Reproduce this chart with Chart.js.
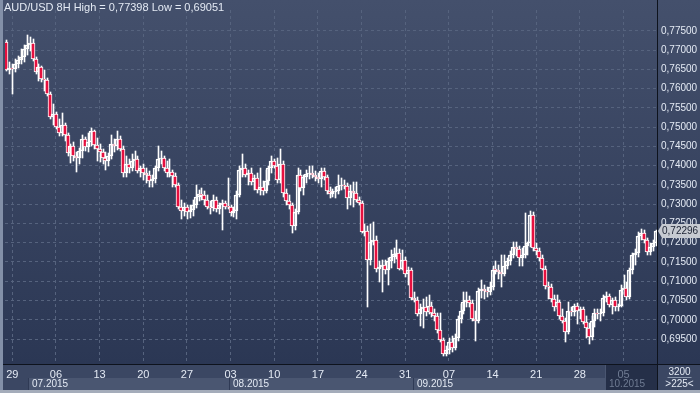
<!DOCTYPE html>
<html>
<head>
<meta charset="utf-8">
<script src="https://cdn.jsdelivr.net/npm/chart.js@4/dist/chart.umd.min.js"></script>
<style>
  html, body { margin: 0; padding: 0; background: #2c3955; overflow: hidden; }
</style>
</head>
<body>
<canvas id="chart" width="700" height="393"></canvas>
<script>
// AUD/USD 8H candles (one value per bar)
const opens = [
  0.7721,0.7648,0.7653,0.7650,0.7665,0.7675,0.7681,0.7703,0.7713,0.7718,
  0.7678,0.7643,0.7655,0.7625,0.7623,0.7587,0.7527,0.7534,0.7501,0.7484,
  0.7506,0.7481,0.7433,0.7451,0.7426,0.7421,0.7438,0.7469,0.7448,0.7461,
  0.7489,0.7453,0.7443,0.7436,0.7421,0.7413,0.7426,0.7456,0.7451,0.7469,
  0.7443,0.7380,0.7405,0.7395,0.7413,0.7418,0.7385,0.7393,0.7380,0.7375,
  0.7360,0.7365,0.7395,0.7418,0.7421,0.7393,0.7380,0.7383,0.7373,0.7350,
  0.7294,0.7282,0.7292,0.7279,0.7284,0.7299,0.7320,0.7327,0.7325,0.7312,
  0.7294,0.7289,0.7312,0.7287,0.7297,0.7302,0.7294,0.7292,0.7277,0.7282,
  0.7325,0.7388,0.7395,0.7375,0.7380,0.7357,0.7368,0.7337,0.7345,0.7335,
  0.7360,0.7395,0.7413,0.7400,0.7362,0.7405,0.7330,0.7309,0.7299,0.7244,
  0.7279,0.7375,0.7342,0.7370,0.7378,0.7380,0.7375,0.7370,0.7365,0.7385,
  0.7370,0.7335,0.7327,0.7332,0.7335,0.7347,0.7350,0.7347,0.7317,0.7335,
  0.7330,0.7312,0.7304,0.7229,0.7231,0.7155,0.7203,0.7206,0.7133,0.7138,
  0.7143,0.7128,0.7153,0.7163,0.7170,0.7173,0.7133,0.7155,0.7118,0.7128,
  0.7057,0.7052,0.7014,0.7027,0.7032,0.7019,0.7037,0.7017,0.7009,0.6974,
  0.6948,0.6911,0.6921,0.6943,0.6926,0.6953,0.7001,0.7022,0.7047,0.7052,
  0.7044,0.7001,0.6996,0.7075,0.7080,0.7075,0.7072,0.7085,0.7130,0.7128,
  0.7123,0.7120,0.7140,0.7153,0.7168,0.7188,0.7183,0.7160,0.7168,0.7191,
  0.7198,0.7272,0.7186,0.7178,0.7160,0.7133,0.7087,0.7085,0.7054,0.7032,
  0.7047,0.7009,0.6996,0.6969,0.7024,0.7019,0.7037,0.7024,0.7027,0.6994,
  0.6979,0.6956,0.6996,0.7017,0.7014,0.7017,0.7057,0.7062,0.7039,0.7052,
  0.7032,0.7037,0.7077,0.7082,0.7059,0.7128,0.7168,0.7173,0.7218,0.7226,
  0.7206,0.7176,0.7188,0.7198
];
const highs = [
  0.7726,0.7670,0.7665,0.7678,0.7686,0.7703,0.7713,0.77398,0.7734,0.7729,
  0.7683,0.7663,0.7660,0.7648,0.7628,0.7592,0.7560,0.7539,0.7522,0.7537,
  0.7512,0.7486,0.7456,0.7461,0.7436,0.7446,0.7481,0.7474,0.7486,0.7499,
  0.7494,0.7471,0.7456,0.7443,0.7436,0.7433,0.7481,0.7469,0.7489,0.7476,
  0.7451,0.7426,0.7418,0.7431,0.7438,0.7426,0.7400,0.7405,0.7393,0.7385,
  0.7375,0.7400,0.7451,0.7438,0.7426,0.7413,0.7418,0.7388,0.7380,0.7355,
  0.7312,0.7304,0.7299,0.7299,0.7312,0.7350,0.7337,0.7342,0.7335,0.7325,
  0.7309,0.7325,0.7320,0.7304,0.7312,0.7309,0.7368,0.7299,0.7292,0.7335,
  0.7400,0.7431,0.7405,0.7388,0.7393,0.7375,0.7380,0.7395,0.7360,0.7388,
  0.7400,0.7426,0.7418,0.7421,0.7443,0.7413,0.7340,0.7325,0.7304,0.7287,
  0.7393,0.7388,0.7375,0.7388,0.7400,0.7400,0.7385,0.7380,0.7393,0.7393,
  0.7375,0.7345,0.7340,0.7345,0.7375,0.7368,0.7362,0.7355,0.7350,0.7357,
  0.7357,0.7320,0.7309,0.7249,0.7244,0.7249,0.7254,0.7218,0.7153,0.7155,
  0.7155,0.7160,0.7181,0.7186,0.7206,0.7183,0.7181,0.7163,0.7138,0.7135,
  0.7072,0.7059,0.7042,0.7054,0.7059,0.7065,0.7047,0.7027,0.7017,0.7017,
  0.6953,0.6933,0.6953,0.6958,0.6963,0.7009,0.7042,0.7072,0.7072,0.7062,
  0.7052,0.7022,0.7082,0.7102,0.7090,0.7085,0.7097,0.7140,0.7153,0.7143,
  0.7168,0.7168,0.7160,0.7178,0.7203,0.7203,0.7191,0.7186,0.7277,0.7203,
  0.7282,0.7279,0.7198,0.7186,0.7168,0.7140,0.7097,0.7092,0.7065,0.7065,
  0.7052,0.7027,0.7004,0.7047,0.7034,0.7042,0.7044,0.7034,0.7034,0.7009,
  0.6991,0.7009,0.7027,0.7029,0.7027,0.7065,0.7072,0.7067,0.7057,0.7059,
  0.7042,0.7090,0.7115,0.7097,0.7135,0.7173,0.7183,0.7229,0.7236,0.7234,
  0.7213,0.7198,0.7208,0.7234
];
const lows = [
  0.7645,0.7638,0.7585,0.7643,0.7653,0.7663,0.7668,0.7688,0.7698,0.7673,
  0.7638,0.7620,0.7618,0.7595,0.7582,0.7522,0.7506,0.7496,0.7476,0.7476,
  0.7464,0.7426,0.7408,0.7413,0.7383,0.7405,0.7421,0.7438,0.7436,0.7451,
  0.7443,0.7413,0.7410,0.7405,0.7388,0.7400,0.7418,0.7436,0.7441,0.7438,
  0.7370,0.7370,0.7380,0.7385,0.7400,0.7380,0.7370,0.7362,0.7355,0.7345,
  0.7345,0.7355,0.7385,0.7405,0.7385,0.7370,0.7370,0.7345,0.7345,0.7287,
  0.7261,0.7269,0.7261,0.7264,0.7269,0.7289,0.7309,0.7312,0.7299,0.7287,
  0.7274,0.7282,0.7279,0.7274,0.7234,0.7287,0.7287,0.7269,0.7266,0.7261,
  0.7320,0.7370,0.7370,0.7350,0.7350,0.7337,0.7330,0.7325,0.7325,0.7330,
  0.7350,0.7380,0.7393,0.7355,0.7355,0.7320,0.7299,0.7287,0.7224,0.7234,
  0.7274,0.7335,0.7325,0.7355,0.7365,0.7368,0.7360,0.7355,0.7345,0.7362,
  0.7327,0.7317,0.7320,0.7317,0.7327,0.7337,0.7340,0.7287,0.7299,0.7292,
  0.7307,0.7299,0.7224,0.7218,0.7034,0.7143,0.7193,0.7123,0.7097,0.7072,
  0.7118,0.7090,0.7135,0.7148,0.7158,0.7128,0.7128,0.7110,0.7090,0.7052,
  0.7047,0.7009,0.6984,0.6979,0.7011,0.7014,0.7006,0.6996,0.6966,0.6941,
  0.69051,0.6907,0.6911,0.6916,0.6921,0.6946,0.6991,0.7014,0.7032,0.7034,
  0.6996,0.6946,0.6991,0.7057,0.7054,0.7059,0.7065,0.7077,0.7118,0.7105,
  0.7085,0.7113,0.7133,0.7143,0.7160,0.7165,0.7140,0.7140,0.7160,0.7168,
  0.7188,0.7178,0.7168,0.7153,0.7128,0.7080,0.7054,0.7047,0.7024,0.7027,
  0.7001,0.6991,0.6941,0.6963,0.7011,0.7011,0.6989,0.7001,0.6989,0.6953,
  0.6938,0.6948,0.6981,0.7001,0.6996,0.7011,0.7047,0.7034,0.7014,0.7022,
  0.7022,0.7032,0.7067,0.7052,0.7054,0.7118,0.7143,0.7163,0.7208,0.7198,
  0.7168,0.7168,0.7178,0.7191
];
const closes = [
  0.7648,0.7653,0.7650,0.7665,0.7675,0.7681,0.7703,0.7713,0.7718,0.7678,
  0.7643,0.7655,0.7625,0.7623,0.7587,0.7527,0.7534,0.7501,0.7484,0.7506,
  0.7481,0.7433,0.7451,0.7426,0.7421,0.7438,0.7469,0.7448,0.7461,0.7489,
  0.7453,0.7443,0.7436,0.7421,0.7413,0.7426,0.7456,0.7451,0.7469,0.7443,
  0.7380,0.7405,0.7395,0.7413,0.7418,0.7385,0.7393,0.7380,0.7375,0.7360,
  0.7365,0.7395,0.7418,0.7421,0.7393,0.7380,0.7383,0.7373,0.7350,0.7294,
  0.7282,0.7292,0.7279,0.7284,0.7299,0.7320,0.7327,0.7325,0.7312,0.7294,
  0.7289,0.7312,0.7287,0.7297,0.7302,0.7294,0.7292,0.7277,0.7282,0.7325,
  0.7388,0.7395,0.7375,0.7380,0.7357,0.7368,0.7337,0.7345,0.7335,0.7360,
  0.7395,0.7413,0.7400,0.7362,0.7405,0.7330,0.7309,0.7299,0.7244,0.7279,
  0.7375,0.7342,0.7370,0.7378,0.7380,0.7375,0.7370,0.7365,0.7385,0.7370,
  0.7335,0.7327,0.7332,0.7335,0.7347,0.7350,0.7347,0.7317,0.7335,0.7330,
  0.7312,0.7304,0.7229,0.7231,0.7155,0.7203,0.7206,0.7133,0.7138,0.7143,
  0.7128,0.7153,0.7163,0.7170,0.7173,0.7133,0.7155,0.7118,0.7128,0.7057,
  0.7052,0.7014,0.7027,0.7032,0.7019,0.7037,0.7017,0.7009,0.6974,0.6948,
  0.6911,0.6921,0.6943,0.6926,0.6953,0.7001,0.7022,0.7047,0.7052,0.7044,
  0.7001,0.6996,0.7075,0.7080,0.7075,0.7072,0.7085,0.7130,0.7128,0.7123,
  0.7120,0.7140,0.7153,0.7168,0.7188,0.7183,0.7160,0.7168,0.7191,0.7198,
  0.7272,0.7186,0.7178,0.7160,0.7133,0.7087,0.7085,0.7054,0.7032,0.7047,
  0.7009,0.6996,0.6969,0.7024,0.7019,0.7037,0.7024,0.7027,0.6994,0.6979,
  0.6956,0.6996,0.7017,0.7014,0.7017,0.7057,0.7062,0.7039,0.7052,0.7032,
  0.7037,0.7077,0.7082,0.7059,0.7128,0.7168,0.7173,0.7218,0.7226,0.7206,
  0.7176,0.7188,0.7198,0.72296
];

// axis labels
const weekTicks = ['29','06','13','20','27','03','10','17','24','31','07','14','21','28','05'];
const monthLabels = ['07.2015','08.2015','09.2015','10.2015'];
const monthStartBar = [8, 77, 140, 206];
const priceTicks = [0.695,0.700,0.705,0.710,0.715,0.720,0.725,0.730,0.735,0.740,0.745,0.750,0.755,0.760,0.765,0.770,0.775];
const firstMondayBar = 2;
const barsPerWeek = 15;

const FONT = "'Liberation Sans', Arial, sans-serif";
const gridColor = '#56637e';
const textColor = '#e4eaf4';
const dimText = '#6f7b92';

const fmt = (v) => v.toFixed(5).replace('.', ',');
const isWeekBar = (i) => i >= firstMondayBar && (i - firstMondayBar) % barsPerWeek === 0;

Chart.defaults.font.family = FONT;
Chart.defaults.font.size = 10;

// snap candles to whole pixels so they stay crisp
const pixelSnap = {
  id: 'pixelSnap',
  beforeDatasetsDraw(chart) {
    chart.data.datasets.forEach((ds, di) => {
      const meta = chart.getDatasetMeta(di);
      const isWick = ds.label === 'wick';
      meta.data.forEach((el) => {
        el.x = Math.round(el.x) + (isWick ? 0.5 : 0);
        el.y = Math.round(el.y);
        el.base = Math.round(el.base);
      });
    });
  }
};

const chartDecor = {
  id: 'chartDecor',
  beforeDraw(chart) {
    const { ctx, chartArea: a, scales: { x } } = chart;
    const W = chart.width, H = chart.height;
    ctx.save();
    const g = ctx.createLinearGradient(0, 0, 0, a.bottom);
    g.addColorStop(0, '#44506c');
    g.addColorStop(1, '#2b3754');
    ctx.fillStyle = g;
    ctx.fillRect(0, 0, W, a.bottom);
    ctx.fillStyle = '#3b4763';
    ctx.fillRect(0, a.bottom, W, H - a.bottom);
    const slot = x.getPixelForValue(1) - x.getPixelForValue(0);
    for (let k = 0; k < monthStartBar.length - 1; k++) {
      const x0 = Math.round(x.getPixelForValue(monthStartBar[k]) - slot / 2);
      const x1 = Math.round(x.getPixelForValue(monthStartBar[k + 1]) - slot / 2);
      ctx.fillStyle = '#4a5671';
      ctx.fillRect(x0, a.bottom + 14, x1 - x0, 12);
      ctx.fillStyle = '#2f3a55';
      ctx.fillRect(x0, a.bottom + 14, 1, 12);
    }
    // current month panel (darker)
    const xo = Math.round(x.getPixelForValue(monthStartBar[monthStartBar.length - 1]) - slot / 2);
    ctx.fillStyle = '#252f48';
    ctx.fillRect(xo, a.bottom, a.right - xo, 26);
    ctx.fillStyle = '#4a5671';
    ctx.fillRect(xo, a.bottom, 1, 26);
    ctx.restore();
  },
  afterDraw(chart) {
    const { ctx, chartArea: a, scales: { x, y } } = chart;
    const W = chart.width, H = chart.height;
    ctx.save();
    ctx.fillStyle = '#0e131d';
    ctx.fillRect(0, a.bottom, W, 1);
    ctx.fillRect(a.right, 0, 1, H);
    ctx.fillStyle = '#8390a8';
    ctx.fillRect(0, 0, 3, H);
    ctx.fillStyle = '#a4acba';
    ctx.fillRect(0, H - 3, W, 3);

    ctx.textBaseline = 'middle';
    ctx.textAlign = 'left';
    // title
    ctx.font = '11px ' + FONT;
    ctx.fillStyle = textColor;
    const hi = Math.max(...highs), lo = Math.min(...lows);
    ctx.fillText('AUD/USD 8H High = ' + fmt(hi) + ' Low = ' + fmt(lo), 4, 8);

    ctx.font = '10px ' + FONT;
    const slot = x.getPixelForValue(1) - x.getPixelForValue(0);
    monthLabels.forEach((m, k) => {
      const x0 = Math.round(x.getPixelForValue(monthStartBar[k]) - slot / 2);
      ctx.fillStyle = k === monthLabels.length - 1 ? dimText : textColor;
      ctx.fillText(m, x0 + 4, a.bottom + 20.5);
    });

    // last price marker
    const last = closes[closes.length - 1];
    const py = Math.round(y.getPixelForValue(last));
    ctx.fillStyle = '#c6cad1';
    ctx.beginPath();
    ctx.moveTo(a.right + 1, py);
    ctx.lineTo(a.right + 5, py - 7);
    ctx.lineTo(W, py - 7);
    ctx.lineTo(W, py + 7);
    ctx.lineTo(a.right + 5, py + 7);
    ctx.closePath();
    ctx.fill();
    ctx.fillStyle = '#1b2233';
    ctx.fillText(fmt(last), a.right + 5, py + 0.5);

    ctx.textAlign = 'center';
    ctx.fillStyle = textColor;
    const cx = (a.right + W) / 2 + 1;
    ctx.fillText('3200', cx, a.bottom + 8);
    ctx.fillText('>225<', cx, a.bottom + 20);
    ctx.fillStyle = '#8a96ab';
    ctx.fillRect(cx - 12, a.bottom + 13, 24, 1);
    ctx.restore();
  }
};

new Chart(document.getElementById('chart'), {
  type: 'bar',
  data: {
    labels: closes.map((_, i) => String(i)),
    datasets: [
      {
        label: 'body',
        data: opens.map((o, i) => [o, closes[i]]),
        backgroundColor: opens.map((o, i) => closes[i] < o ? '#e6103f' : 'rgba(0,0,0,0)'),
        borderColor: '#ffffff',
        borderWidth: 1,
        borderSkipped: false,
        barThickness: 4,
        minBarLength: 1,
        grouped: false,
        order: 0
      },
      {
        label: 'wick',
        data: lows.map((l, i) => [l, highs[i]]),
        backgroundColor: '#ffffff',
        borderWidth: 0,
        barThickness: 1,
        grouped: false,
        order: 1
      }
    ]
  },
  options: {
    responsive: false,
    animation: false,
    layout: { padding: { left: 5, top: 0, right: 0, bottom: 0 } },
    plugins: { legend: { display: false }, tooltip: { enabled: false }, title: { display: false } },
    scales: {
      x: {
        type: 'category',
        offset: true,
        grid: {
          offset: false,
          drawTicks: false,
          color: (c) => isWeekBar(c.index) ? gridColor : 'rgba(0,0,0,0)'
        },
        border: { display: false, dash: [3, 3] },
        ticks: {
          autoSkip: false,
          maxRotation: 0,
          minRotation: 0,
          padding: 4,
          font: { size: 11 },
          color: (c) => c.index >= monthStartBar[3] ? dimText : textColor,
          callback: (v, i) => isWeekBar(i) ? weekTicks[(i - firstMondayBar) / barsPerWeek] : ''
        },
        afterFit: (s) => { s.height = 29; }
      },
      y: {
        position: 'right',
        min: 0.68851,
        max: 0.78043,
        afterBuildTicks: (s) => { s.ticks = priceTicks.map((v) => ({ value: v })); },
        grid: { color: gridColor, drawTicks: false },
        border: { display: false, dash: [3, 3] },
        ticks: { color: textColor, padding: 4, callback: (v) => fmt(v) },
        afterFit: (s) => { s.width = 43; }
      }
    }
  },
  plugins: [pixelSnap, chartDecor]
});
</script>
</body>
</html>
